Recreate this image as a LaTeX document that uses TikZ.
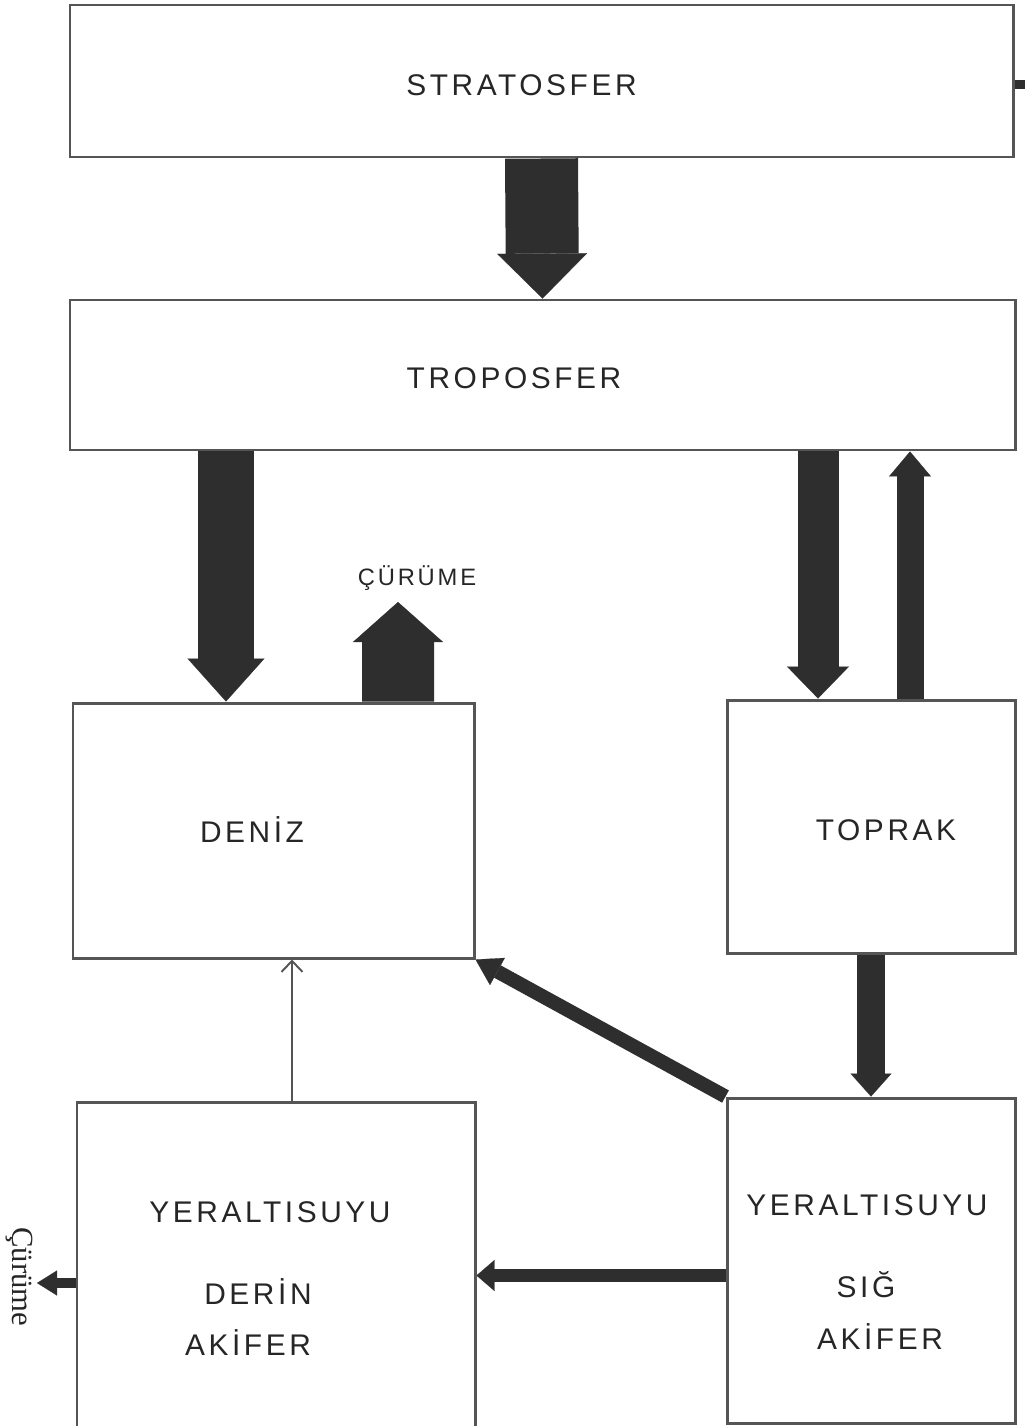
\documentclass[tikz,border=0pt]{standalone}
\usepackage{fontspec}
\setmainfont{Liberation Serif}
\newfontfamily\boxfont[LetterSpace=12]{Liberation Sans}
\usetikzlibrary{arrows.meta,backgrounds,positioning}
\definecolor{linegray}{HTML}{555555}
\definecolor{flowgray}{HTML}{2E2E2E}
\definecolor{textgray}{HTML}{262626}

\begin{document}
\begin{tikzpicture}[thick,
    box node/.style={draw=linegray,line width=1.7pt,inner sep=0pt},
    label node/.style={text=textgray,font=\boxfont\fontsize{17}{20}\selectfont},
    small label/.style={text=textgray,font=\boxfont\fontsize{13.5}{15}\selectfont},
    big arrow/.style n args={3}{draw=flowgray,line width=#1,
      -{Triangle[width=#2,length=#3,line width=0.1pt]}},
    thin arrow/.style={draw=linegray,line width=1.1pt,
      -{Straight Barb[width=0.42cm,length=0.22cm]}}]
  \useasboundingbox (0,0) rectangle (20.48,-28.52);

  % compartments
  \node[box node,minimum width=18.86cm,minimum height=3.04cm] (strat) at (10.83,-1.62) {};
  \node[box node,minimum width=18.90cm,minimum height=3.00cm] (trop) at (10.85,-7.50) {};
  \node[box node,minimum width=8.02cm,minimum height=5.10cm] (deniz) at (5.47,-16.61) {};
  \node[box node,minimum width=5.76cm,minimum height=5.06cm] (toprak) at (17.42,-16.53) {};
  \node[box node,minimum width=7.96cm,minimum height=6.52cm] (derin) at (5.52,-25.30) {};
  \node[box node,minimum width=5.76cm,minimum height=6.50cm] (sig) at (17.42,-25.21) {};

  \node[label node] (stratl) at (10.43,-1.70) {STRATOSFER};
  \node[label node] (tropl) at (10.28,-7.56) {TROPOSFER};
  \node[label node] (denizl) at (5.04,-16.60) {DENİZ};
  \node[label node] (toprakl) at (17.72,-16.60) {TOPRAK};
  \node[label node] (derin1) at (5.40,-24.24) {YERALTISUYU};
  \node[label node] (derin2) at (5.16,-25.84) {DERİN};
  \node[label node] (derin3) at (4.96,-26.86) {AKİFER};
  \node[label node] (sig1) at (17.34,-24.10) {YERALTISUYU};
  \node[label node] (sig2) at (17.32,-25.70) {SIĞ};
  \node[label node] (sig3) at (17.60,-26.74) {AKİFER};

  \coordinate (c1) at (7.96,-12.04);
  \node[small label,above=0.1cm of c1,xshift=0.38cm] (cur1) {ÇÜRÜME};
  \coordinate (w2) at (0.74,-25.66);
  \node[rotate=-90,text=textgray,font=\fontsize{17.5}{20}\selectfont] (cur2) at (0.38,-25.54) {Çürüme};

  % flows
  \begin{scope}[on background layer]
    \draw[big arrow={1.46cm}{1.8cm}{0.9cm}] (strat.south) -- (trop.north);
    \coordinate (d1) at ([xshift=-0.95cm]deniz.north);
    \draw[big arrow={1.12cm}{1.54cm}{0.86cm}] (d1 |- trop.south) -- (d1);
    \coordinate (d2) at ([xshift=2.49cm]deniz.north);
    \draw[big arrow={1.44cm}{1.8cm}{0.8cm}] (d2) -- (c1);
    \coordinate (t1) at ([xshift=-1.06cm]toprak.north);
    \draw[big arrow={0.82cm}{1.24cm}{0.64cm}] (t1 |- trop.south) -- (t1);
    \coordinate (t2) at ([xshift=0.78cm]toprak.north);
    \draw[big arrow={0.54cm}{0.84cm}{0.5cm}] (t2) -- (t2 |- trop.south);
    \draw[big arrow={0.56cm}{0.82cm}{0.46cm}] (toprak.south) -- (sig.north);
    \draw[big arrow={0.28cm}{0.62cm}{0.5cm}] (sig.north west) -- (deniz.south east);
    \coordinate (s1) at ([yshift=-0.30cm]sig.west);
    \draw[big arrow={0.26cm}{0.62cm}{0.36cm}] (s1) -- (s1 -| derin.east);
    \coordinate (w1) at ([yshift=-0.36cm]derin.west);
    \draw[big arrow={0.2cm}{0.5cm}{0.4cm}] (w1) -- (w2);
    \draw[flowgray,line width=0.18cm] ([yshift=-0.08cm]strat.east) -- ++(0.3,0);
  \end{scope}
  \coordinate (e1) at ([xshift=0.32cm]derin.north);
  \draw[thin arrow] (e1) -- (e1 |- deniz.south);
\end{tikzpicture}
\end{document}
